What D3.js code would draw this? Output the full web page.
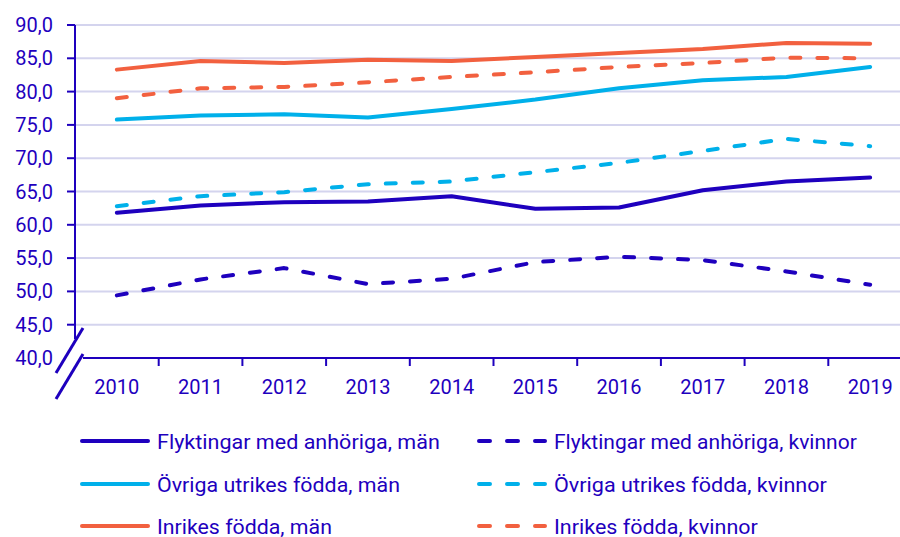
<!DOCTYPE html>
<html>
<head>
<meta charset="utf-8">
<script src="https://d3js.org/d3.v7.min.js"></script>
<style>
  body { margin: 0; background: #fff; }
  text { font-family: Roboto, "Noto Sans", sans-serif; fill: #1e00be; }
</style>
</head>
<body>
<script>
var years = ["2010", "2011", "2012", "2013", "2014", "2015", "2016", "2017", "2018", "2019"];
var yTicks = [40, 45, 50, 55, 60, 65, 70, 75, 80, 85, 90];

var flyktMan     = [61.8, 62.9, 63.4, 63.5, 64.3, 62.4, 62.6, 65.2, 66.5, 67.1];
var flyktKvinnor = [49.4, 51.8, 53.5, 51.1, 51.9, 54.4, 55.2, 54.7, 53.0, 51.0];
var ovrigaMan    = [75.8, 76.4, 76.6, 76.1, 77.4, 78.8, 80.5, 81.7, 82.2, 83.7];
var ovrigaKvinnor= [62.8, 64.3, 64.9, 66.1, 66.5, 67.9, 69.3, 71.1, 72.9, 71.8];
var inrikesMan   = [83.3, 84.6, 84.3, 84.8, 84.6, 85.2, 85.8, 86.4, 87.3, 87.2];
var inrikesKvinnor=[79.0, 80.5, 80.7, 81.4, 82.2, 82.9, 83.7, 84.3, 85.1, 85.0];

var blue = "#1e00be", light = "#00b0ea", orange = "#f2603f";

var series = [
  { name: "Flyktingar med anhöriga, män", values: flyktMan, color: blue, dashed: false },
  { name: "Flyktingar med anhöriga, kvinnor", values: flyktKvinnor, color: blue, dashed: true },
  { name: "Övriga utrikes födda, män", values: ovrigaMan, color: light, dashed: false },
  { name: "Övriga utrikes födda, kvinnor", values: ovrigaKvinnor, color: light, dashed: true },
  { name: "Inrikes födda, män", values: inrikesMan, color: orange, dashed: false },
  { name: "Inrikes födda, kvinnor", values: inrikesKvinnor, color: orange, dashed: true }
];

// legend text widths as measured in the original
var legendWidths = [283, 303, 243, 273, 175, 204];

var width = 900, height = 537;

var svg = d3.select("body").append("svg")
    .attr("width", width)
    .attr("height", height);

var x = d3.scaleBand().domain(years).range([75, 912]);
var y = d3.scaleLinear().domain([40, 90]).range([358, 25]);

// gridlines
svg.append("g").selectAll("line")
    .data(yTicks.filter(function (d) { return d > 40; }))
    .enter().append("line")
    .attr("x1", 75).attr("x2", width)
    .attr("y1", function (d) { return y(d); })
    .attr("y2", function (d) { return y(d); })
    .style("stroke", "#d4d4ee")
    .style("stroke-width", 2);

// y axis
svg.append("line")
    .attr("x1", 75).attr("x2", 75)
    .attr("y1", 25).attr("y2", 339)
    .style("stroke", blue).style("stroke-width", 2);
svg.append("g").selectAll("line")
    .data(yTicks.filter(function (d) { return d > 40; }))
    .enter().append("line")
    .attr("x1", 67).attr("x2", 75)
    .attr("y1", function (d) { return y(d); })
    .attr("y2", function (d) { return y(d); })
    .style("stroke", blue).style("stroke-width", 2);
svg.append("g").selectAll("text")
    .data(yTicks)
    .enter().append("text")
    .attr("x", 53)
    .attr("y", function (d) { return y(d) + 7; })
    .attr("text-anchor", "end")
    .style("font-size", "20px")
    .text(function (d) { return d.toFixed(1).replace(".", ","); });

// axis break marks
svg.append("line").attr("x1", 56).attr("y1", 373).attr("x2", 83).attr("y2", 328)
    .style("stroke", blue).style("stroke-width", 3);
svg.append("line").attr("x1", 56).attr("y1", 399).attr("x2", 83).attr("y2", 354)
    .style("stroke", blue).style("stroke-width", 3);

// x axis
svg.append("line")
    .attr("x1", 83).attr("x2", width)
    .attr("y1", 358).attr("y2", 358)
    .style("stroke", blue).style("stroke-width", 2);
svg.append("g").selectAll("line")
    .data(years.slice(1))
    .enter().append("line")
    .attr("x1", function (d) { return x(d); })
    .attr("x2", function (d) { return x(d); })
    .attr("y1", 358).attr("y2", 366)
    .style("stroke", blue).style("stroke-width", 2);
svg.append("g").selectAll("text")
    .data(years)
    .enter().append("text")
    .attr("x", function (d) { return x(d) + x.bandwidth() / 2; })
    .attr("y", 394)
    .attr("text-anchor", "middle")
    .style("font-size", "20px")
    .text(function (d) { return d; });

// lines
var line = d3.line()
    .x(function (d, i) { return x(years[i]) + x.bandwidth() / 2; })
    .y(function (d) { return y(d); });

svg.append("g").selectAll("path")
    .data(series)
    .enter().append("path")
    .attr("d", function (d) { return line(d.values); })
    .style("fill", "none")
    .style("stroke", function (d) { return d.color; })
    .style("stroke-width", 4)
    .style("stroke-linecap", "round")
    .style("stroke-linejoin", "round")
    .style("stroke-dasharray", function (d) { return d.dashed ? "10,17" : null; });

// legend
var legend = svg.append("g").selectAll("g")
    .data(series)
    .enter().append("g")
    .attr("transform", function (d, i) {
        return "translate(" + (i % 2 ? 477 : 80) + "," + [441, 484, 526][Math.floor(i / 2)] + ")";
    });
legend.append("line")
    .attr("x1", 2)
    .attr("x2", 68)
    .style("stroke", function (d) { return d.color; })
    .style("stroke-width", 4)
    .style("stroke-linecap", "round")
    .style("stroke-dasharray", function (d) { return d.dashed ? "11,17" : null; });
legend.append("text")
    .style("font-size", "20.5px")
    .text(function (d) { return d.name; })
    .attr("transform", function (d, i) {
        var w = this.getComputedTextLength();
        return "translate(77,7.5) scale(" + (legendWidths[i] / w) + ",1)";
    });
</script>
</body>
</html>
